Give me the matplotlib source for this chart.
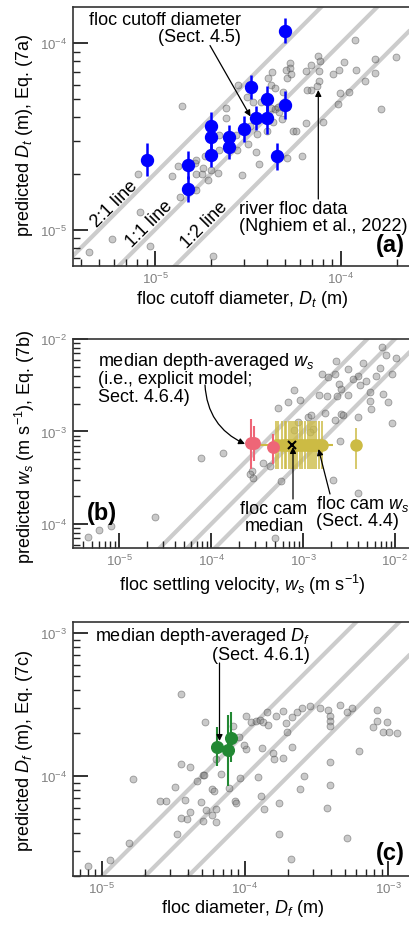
import matplotlib
matplotlib.use('Agg')
import matplotlib.pyplot as plt
import numpy as np
from matplotlib.ticker import LogLocator, NullFormatter

plt.rcParams['font.family'] = ['Liberation Sans', 'DejaVu Sans']
plt.rcParams['mathtext.fontset'] = 'custom'
plt.rcParams['mathtext.rm'] = 'Liberation Sans'
plt.rcParams['mathtext.it'] = 'Liberation Sans:italic'
plt.rcParams['mathtext.bf'] = 'Liberation Sans:bold'

# ---------------- Panel (a): floc cutoff diameter ----------------
a_gray_x = [1.4e-5, 2.42e-5, 2.8e-5, 3.13e-5, 3.38e-5, 3.72e-5, 4.06e-5, 4.27e-5, 4.2e-5, 4.4e-5,
            4.22e-5, 4.42e-5, 4.33e-5, 4.65e-5, 4.9e-5, 5.1e-5, 5.3e-5, 5.3e-5, 5.4e-5, 5.05e-5,
            4.8e-5, 5.5e-5, 5.75e-5, 6.5e-5, 6.45e-5, 6.9e-5, 7.5e-5, 7.75e-5, 7.6e-5, 7.6e-5,
            7.4e-5, 6.9e-5, 6.6e-5, 9.1e-5, 9.8e-5, 1.04e-4, 1.19e-4, 1.21e-4, 9.9e-5, 1.1e-4,
            9.6e-5, 1.35e-4, 1.53e-4, 1.53e-4, 1.98e-4, 1.64e-4, 3.55e-5, 3.25e-5, 2.42e-5, 2.2e-5,
            1.85e-5, 2.72e-5, 2.76e-5, 3.17e-5, 3.47e-5, 3.98e-5, 6.2e-5, 8.0e-5, 4.58e-5, 4.4e-6,
            5.85e-6, 8.3e-6, 9.45e-6, 8.1e-6, 1.24e-5, 1.36e-5, 1.67e-5, 1.66e-5, 1.78e-5, 1.92e-5,
            2.0e-5, 2.19e-5, 1.82e-5, 1.64e-5, 2.04e-5, 2.94e-5, 3.62e-5, 5.1e-5, 1.33e-5, 2.22e-5,
            1.66e-5, 5.1e-5]
a_gray_y = [4.6e-5, 4.5e-5, 5.95e-5, 5.13e-5, 4.86e-5, 4.83e-5, 6.5e-5, 7.0e-5, 5.95e-5, 5.72e-5,
            4.5e-5, 4.45e-5, 3.8e-5, 4.3e-5, 5.45e-5, 6.55e-5, 7.85e-5, 7.35e-5, 6.85e-5, 7.2e-5,
            3.93e-5, 3.4e-5, 3.4e-5, 3.72e-5, 7.1e-5, 7.6e-5, 8.5e-5, 8.05e-5, 7.1e-5, 6.3e-5,
            5.9e-5, 5.6e-5, 5.6e-5, 6.85e-5, 7.2e-5, 7.9e-5, 1.045e-4, 7.2e-5, 5.4e-5, 5.5e-5,
            4.7e-5, 6.28e-5, 8.2e-5, 6.95e-5, 8.4e-5, 4.45e-5, 3.27e-5, 3.6e-5, 3.98e-5, 3.2e-5,
            2.49e-5, 3.2e-5, 2.68e-5, 2.87e-5, 2.6e-5, 3.4e-5, 2.49e-5, 3.8e-5, 4.55e-5, 7.6e-6,
            8.9e-6, 1.24e-5, 8.2e-6, 2.0e-5, 1.95e-5, 1.49e-5, 1.63e-5, 1.98e-5, 1.98e-5, 1.85e-5,
            2.1e-5, 2.02e-5, 2.15e-5, 2.27e-5, 7.25e-6, 1.97e-5, 2.25e-5, 2.42e-5, 2.2e-5, 2.67e-5,
            2.36e-5, 4.55e-5]
a_blue_x = [5.0e-5, 3.3e-5, 4.0e-5, 5.0e-5, 3.5e-5, 4.0e-5, 3.0e-5, 2.0e-5,
            2.0e-5, 2.5e-5, 2.5e-5, 2.0e-5, 9.0e-6, 1.5e-5, 1.5e-5, 4.5e-5]
a_blue_y = [1.17e-4, 5.81e-5, 5.02e-5, 4.67e-5, 3.96e-5, 3.96e-5, 3.47e-5, 3.61e-5,
            3.13e-5, 3.13e-5, 2.78e-5, 2.53e-5, 2.37e-5, 2.22e-5, 1.65e-5, 2.47e-5]
a_blue_lo = [1.00e-4, 5.01e-5, 4.25e-5, 3.93e-5, 3.41e-5, 3.25e-5, 2.96e-5, 3.06e-5,
             2.70e-5, 2.68e-5, 2.38e-5, 2.17e-5, 1.93e-5, 1.87e-5, 1.41e-5, 2.09e-5]
a_blue_hi = [1.37e-4, 6.74e-5, 5.93e-5, 5.55e-5, 4.59e-5, 4.83e-5, 4.07e-5, 4.26e-5,
             3.63e-5, 3.65e-5, 3.24e-5, 2.95e-5, 2.91e-5, 2.64e-5, 1.93e-5, 2.92e-5]

# ---------------- Panel (b): floc settling velocity ----------------
b_gray_x = [7.3e-3, 8.1e-3, 1.02e-2, 2.3e-3, 4.5e-3, 6.9e-3, 3.05e-3, 1.62e-3, 1.87e-3, 2.25e-3,
            3.98e-3, 3.5e-3, 4.17e-3, 2.47e-3, 2.58e-3, 7.9e-4, 7.45e-3, 8.5e-3, 1.5e-3, 2.32e-3,
            3.1e-3, 5.3e-3, 5.55e-3, 5.3e-4, 6.85e-4, 9.25e-4, 3.93e-3, 9.2e-3, 2.56e-3, 2.22e-3,
            1.14e-3, 1.29e-3, 6.3e-3, 9.2e-3, 4.8e-3, 5.35e-3, 1.81e-3, 1.22e-3, 1.73e-3, 2.74e-3,
            8.9e-4, 8.0e-4, 2.52e-3, 1.33e-4, 7.75e-5, 3.66e-4, 2.8e-4, 2.62e-4, 2.85e-4, 5.8e-4,
            2.13e-3, 3.95e-3, 2.44e-5, 4.6e-6, 6.0e-6, 8.1e-6, 4.97e-4, 4.37e-4, 1.2e-3]
b_gray_y = [8.2e-3, 6.7e-3, 6.2e-3, 5.8e-3, 5.5e-3, 4.9e-3, 4.7e-3, 4.16e-3, 3.86e-3, 4.2e-3,
            3.94e-3, 3.67e-3, 3.16e-3, 3.24e-3, 2.86e-3, 2.79e-3, 2.53e-3, 2.1e-3, 2.47e-3, 2.43e-3,
            2.47e-3, 2.14e-3, 1.74e-3, 1.79e-3, 2.07e-3, 2.21e-3, 1.42e-3, 1.25e-3, 1.54e-3, 1.32e-3,
            1.42e-3, 1.06e-3, 3.99e-3, 4.16e-3, 3.52e-3, 2.7e-3, 2.39e-3, 1.5e-3, 1.58e-3, 1.5e-3,
            1.27e-3, 1.04e-3, 7.9e-4, 5.9e-4, 5.15e-4, 4.6e-4, 3.75e-4, 3.45e-4, 3.18e-4, 2.88e-4,
            3.0e-4, 2.14e-4, 1.2e-4, 7.15e-5, 8.6e-5, 9.4e-5, 6.97e-5, 4.25e-4, 9.9e-4]
b_pink_x = [2.68e-4, 2.92e-4, 4.65e-4]
b_pink_y = [7.57e-4, 7.45e-4, 6.85e-4]
b_pink_lo = [3.91e-4, 4.77e-4, 4.43e-4]
b_pink_hi = [1.36e-3, 1.14e-3, 9.35e-4]
b_cam_x = [5.1e-4, 5.4e-4, 5.9e-4, 6.3e-4, 6.6e-4, 7.0e-4, 7.4e-4, 7.7e-4, 8.1e-4, 8.6e-4,
           9.3e-4, 9.8e-4, 1.06e-3, 1.12e-3, 1.18e-3, 1.25e-3, 1.33e-3, 1.40e-3, 1.48e-3, 1.62e-3,
           3.8e-3]
b_cam_y = 7.2e-4
b_cam_lo = [3.91e-4] * 20 + [3.91e-4]
b_cam_hi = [1.30e-3] * 20 + [1.10e-3]
b_med_x = 7.65e-4
b_med_y = 7.2e-4
b_med_xlo = 2.85e-4
b_med_xhi = 2.11e-3

# ---------------- Panel (c): floc diameter ----------------
c_gray_x = [3.56e-5, 5.3e-5, 1.02e-4, 1.11e-4, 1.19e-4, 1.27e-4, 1.33e-4, 1.43e-4, 1.45e-4, 1.64e-4,
            1.83e-4, 1.92e-4, 1.95e-4, 2.12e-4, 2.3e-4, 2.49e-4, 2.84e-4, 3.33e-4, 3.81e-4, 3.92e-4,
            3.93e-4, 3.95e-4, 4.6e-4, 5.13e-4, 5.56e-4, 8.3e-4, 8.3e-4, 7.85e-4, 9.75e-4, 9.2e-4,
            1.02e-3, 1.15e-3, 6.28e-4, 3.93e-4, 2.14e-4, 1.85e-4, 1.59e-4, 1.56e-4, 1.32e-4, 1.02e-4,
            9.9e-5, 8.3e-5, 9.1e-5, 6.85e-5, 9.2e-5, 1.24e-4, 2.6e-4, 6.28e-5, 3.56e-5, 4.13e-5,
            5.13e-5, 1.65e-5, 3.27e-5, 4.65e-5, 3.93e-4, 2.41e-4, 1.3e-4, 1.73e-4, 3.75e-4, 1.35e-4,
            5.92e-5, 6.12e-5, 7.7e-5, 8.5e-5, 8.7e-5, 2.56e-5, 2.8e-5, 3.83e-5, 4.91e-5, 4.11e-5,
            5.35e-5, 6.31e-5, 5.92e-5, 3.55e-5, 3.94e-5, 5.1e-5, 6.31e-5, 3.38e-5, 1.73e-4, 5.19e-4,
            1.56e-5, 1.14e-5, 8.05e-6, 2.11e-4, 5.18e-5]
c_gray_y = [3.78e-4, 2.38e-4, 2.65e-4, 2.39e-4, 2.43e-4, 2.49e-4, 2.39e-4, 2.83e-4, 2.29e-4, 2.63e-4,
            2.87e-4, 2.36e-4, 2.05e-4, 2.59e-4, 2.81e-4, 3.01e-4, 3.12e-4, 3.01e-4, 2.92e-4, 2.65e-4,
            2.45e-4, 2.26e-4, 3.16e-4, 2.83e-4, 2.99e-4, 2.91e-4, 2.43e-4, 2.22e-4, 2.39e-4, 2.03e-4,
            2.05e-4, 2.01e-4, 1.49e-4, 1.26e-4, 1.6e-4, 1.34e-4, 1.32e-4, 1.45e-4, 1.57e-4, 1.55e-4,
            1.64e-4, 2.24e-4, 1.89e-4, 1.03e-4, 9.8e-5, 9.9e-5, 1.0e-4, 1.32e-4, 1.22e-4, 1.16e-4,
            1.02e-4, 9.5e-5, 8.4e-5, 9.2e-5, 8.7e-5, 8.2e-5, 7.25e-5, 6.53e-5, 5.97e-5, 5.93e-5,
            8.15e-5, 7.9e-5, 8.3e-5, 6.75e-5, 6.5e-5, 6.75e-5, 6.7e-5, 6.83e-5, 6.64e-5, 5.6e-5,
            5.78e-5, 5.9e-5, 5.36e-5, 5.07e-5, 5.03e-5, 4.9e-5, 4.82e-5, 3.95e-5, 3.95e-5, 3.71e-5,
            3.42e-5, 2.62e-5, 2.37e-5, 2.64e-5, 1.02e-4]
c_green_x = [6.35e-5, 7.98e-5, 7.67e-5]
c_green_y = [1.61e-4, 1.85e-4, 1.53e-4]
c_green_lo = [1.18e-4, 1.25e-4, 8.6e-5]
c_green_hi = [2.21e-4, 2.82e-4, 2.68e-4]

ratios = [2.0, 1.0, 0.5]

# ---------------- layout ----------------
W, H = 410, 928
fig = plt.figure(figsize=(W / 100, H / 100), dpi=100)


def F(px, py):
    return (px / W, 1 - py / H)


def make_ax(top, bottom, xlim, ylim):
    ax = fig.add_axes([73 / W, 1 - bottom / H, (410 - 73) / W, (bottom - top) / H])
    ax.set_xscale('log')
    ax.set_yscale('log')
    ax.set_xlim(*xlim)
    ax.set_ylim(*ylim)
    for s in ['left', 'bottom', 'top']:
        ax.spines[s].set_color('#333333')
        ax.spines[s].set_linewidth(1.2)
    ax.spines['right'].set_visible(False)
    for axis in (ax.xaxis, ax.yaxis):
        axis.set_major_locator(LogLocator(base=10, numticks=20))
        axis.set_minor_locator(LogLocator(base=10, subs=np.arange(2, 10), numticks=20))
        axis.set_minor_formatter(NullFormatter())
    ax.tick_params(which='major', direction='in', length=10.5, width=1.3, color='#222222',
                   labelsize=9.5, labelcolor='#808080')
    ax.tick_params(which='minor', direction='in', length=5, width=1.0, color='#222222')
    ax.tick_params(axis='x', which='major', pad=3.5)
    ax.tick_params(axis='y', which='major', pad=4)
    xs = np.logspace(-7, -1, 50)
    for r in ratios:
        ax.plot(xs, r * xs, color='#cccccc', lw=3, zorder=1, solid_capstyle='butt')
    return ax


def set_labels(ax, xl, yl, xpos, ypos):
    ax.set_xlabel(xl, fontsize=13)
    ax.xaxis.set_label_coords(*F(*xpos), transform=fig.transFigure)
    ax.xaxis.label.set_va('center')
    ax.set_ylabel(yl, fontsize=13)
    ax.yaxis.set_label_coords(*F(*ypos), transform=fig.transFigure)
    ax.yaxis.label.set_va('center')


def gray(ax, x, y):
    ax.scatter(x, y, s=25, c='0.5', edgecolors='0.2', linewidths=0.6, alpha=0.42, zorder=2)


def arrow(xy, xytext, rad=0.0):
    fig.add_artist(matplotlib.patches.FancyArrowPatch(
        F(*xytext), F(*xy), transform=fig.transFigure, arrowstyle='-|>',
        mutation_scale=9, lw=0.9, color='k', connectionstyle=f'arc3,rad={rad}',
        shrinkA=0, shrinkB=0, zorder=10))


TXT = dict(fontsize=13, linespacing=1.0, color='k')

# ---- (a)
axa = make_ax(7.5, 267, (3.62e-6, 2.35e-4), (6.38e-6, 1.575e-4))
gray(axa, a_gray_x, a_gray_y)
ay = np.array(a_blue_y)
axa.errorbar(a_blue_x, a_blue_y, yerr=[ay - np.array(a_blue_lo), np.array(a_blue_hi) - ay],
             fmt='o', color='#0000ff', ms=8.6, elinewidth=1.8, capsize=0, zorder=4)
set_labels(axa, 'floc cutoff diameter, $D_t$ (m)', 'predicted $D_t$ (m), Eq. (7a)',
           (242, 299.5), (25, 136))
fig.text(*F(241, 29.2), 'floc cutoff diameter\n(Sect. 4.5)', ha='right', va='center',
         ma='right', **TXT)
arrow((250.5, 117.5), (210, 46.5))
fig.text(*F(239.5, 218.3), 'river floc data\n(Nghiem et al., 2022)', ha='left', va='center',
         ma='left', **TXT)
arrow((318.3, 91), (318.3, 200))
for lab, (px, py) in zip(['2:1 line', '1:1 line', '1:2 line'],
                         [(114.2, 204.2), (149.7, 224.2), (204.2, 225)]):
    fig.text(*F(px, py), lab, rotation=45, ha='center', va='center', rotation_mode='anchor',
             fontsize=13)
fig.text(*F(390.5, 245.8), '(a)', ha='center', va='center', fontsize=17, fontweight='bold')

# ---- (b)
axb = make_ax(340, 549, (3.13e-6, 1.46e-2), (5.5e-5, 1.0e-2))
gray(axb, b_gray_x, b_gray_y)
cy = np.full(len(b_cam_x), b_cam_y)
axb.errorbar(b_cam_x, cy, yerr=[cy - np.array(b_cam_lo), np.array(b_cam_hi) - cy],
             fmt='o', color='#ccbb44', ms=8.0, elinewidth=1.1, capsize=0, zorder=4)
axb.errorbar([b_med_x], [b_med_y], xerr=[[b_med_x - b_med_xlo], [b_med_xhi - b_med_x]],
             fmt='none', ecolor='#ccbb44', elinewidth=1.5, capsize=0, zorder=4)
axb.plot([b_med_x], [b_med_y], 'x', color='k', ms=6, mew=1.5, zorder=6)
py_ = np.array(b_pink_y)
axb.errorbar(b_pink_x, b_pink_y, yerr=[py_ - np.array(b_pink_lo), np.array(b_pink_hi) - py_],
             fmt='o', color='#ee6677', ms=8.2, elinewidth=1.5, capsize=0, zorder=5)
set_labels(axb, 'floc settling velocity, $w_s$ (m s$^{-1}$)',
           'predicted $w_s$ (m s$^{-1}$), Eq. (7b)', (242.5, 585), (25, 447))
fig.text(*F(98.5, 378), 'median depth-averaged $w_s$\n(i.e., explicit model;\nSect. 4.6.4)',
         ha='left', va='center', ma='left', **TXT)
arrow((245, 445), (205, 386), rad=0.3)
fig.text(*F(274, 518), 'floc cam\nmedian', ha='center', va='center', ma='center', **TXT)
arrow((293, 448), (293, 500))
fig.text(*F(316.5, 512), 'floc cam $w_s$\n(Sect. 4.4)', ha='left', va='center', ma='left', **TXT)
arrow((318.5, 450), (330, 495))
fig.text(*F(102, 513.5), '(b)', ha='center', va='center', fontsize=17, fontweight='bold')

# ---- (c)
axc = make_ax(623.3, 877.3, (6.3e-6, 1.42e-3), (2.0e-5, 1.19e-3))
gray(axc, c_gray_x, c_gray_y)
gy = np.array(c_green_y)
axc.errorbar(c_green_x, c_green_y, yerr=[gy - np.array(c_green_lo), np.array(c_green_hi) - gy],
             fmt='o', color='#228833', ms=8.4, elinewidth=1.5, capsize=0, zorder=4)
set_labels(axc, 'floc diameter, $D_f$ (m)', 'predicted $D_f$ (m), Eq. (7c)',
           (242.5, 909), (25, 751))
fig.text(*F(310, 645), 'median depth-averaged $D_f$\n(Sect. 4.6.1)', ha='right', va='center',
         ma='right', **TXT)
arrow((219.5, 742), (219.5, 664))
fig.text(*F(390.5, 854), '(c)', ha='center', va='center', fontsize=17, fontweight='bold')

fig.savefig('out.png', dpi=100)
